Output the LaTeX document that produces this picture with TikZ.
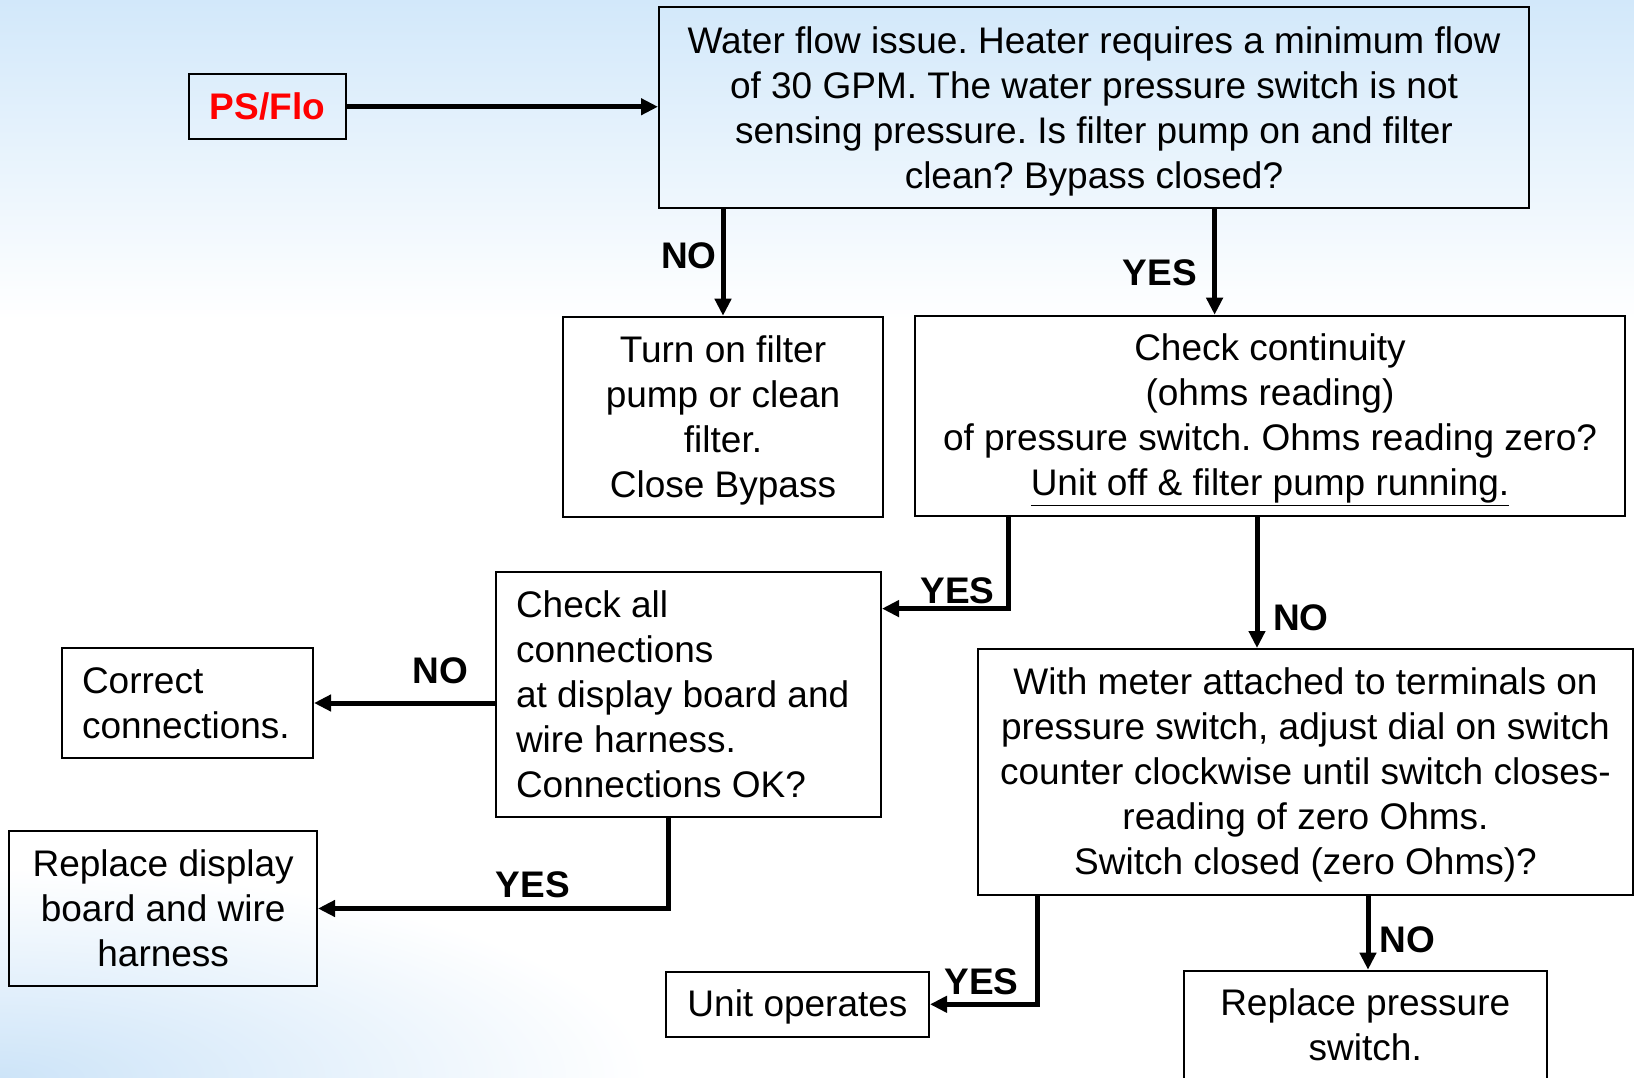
\documentclass[tikz,border=0pt]{standalone}
\usepackage{fontspec}
\setmainfont{Liberation Sans}
\usetikzlibrary{arrows.meta}
\definecolor{bgblue}{RGB}{210,232,250}
\definecolor{bgblue2}{RGB}{205,228,248}
\definecolor{psred}{RGB}{255,0,0}
\frenchspacing
\newcommand\upstrut[1]{\rule{0pt}{#1pt}}
\newcommand\downstrut[1]{\rule[-#1pt]{0pt}{#1pt}}
\begin{document}
\begin{tikzpicture}[x=1pt,y=-1pt,
  box/.style={draw=black, line width=2pt, inner sep=0pt, align=flush center,
    font=\fontsize{37}{45}\selectfont},
  lbox/.style={box, align=flush left, inner xsep=20pt},
  lbl/.style={inner sep=0pt, font=\bfseries\fontsize{37}{45}\selectfont},
  arr/.style={line width=5pt, -{Triangle[length=17pt,width=16pt]}}]
\useasboundingbox (0,0) rectangle (1634,1078);
% background
\fill[white] (0,0) rectangle (1634,1078);
\shade[top color=bgblue, bottom color=white] (0,0) rectangle (1634,320);
\shade[inner color=bgblue2, outer color=white] (0,1078) ellipse (650 and 210);

% nodes
\node[box, minimum width=157pt, minimum height=65.5pt, font=\bfseries\fontsize{37}{45}\selectfont, text=psred]
  (ps) at (267.5,106.75) {PS/Flo};
\node[box, text width=870pt, minimum height=201pt] (top) at (1094,107.5)
  {\upstrut{34.5}Water flow issue. Heater requires a minimum flow\\of 30 GPM. The water pressure switch is not\\sensing pressure. Is filter pump on and filter\\clean? Bypass closed?};
\node[box, text width=320pt, minimum height=200.5pt] (filter) at (723,417)
  {\upstrut{34.3}Turn on filter\\pump or clean\\filter.\\Close Bypass};
\node[box, text width=710pt, minimum height=200.5pt] (cont) at (1270,416)
  {\upstrut{34.6}Check continuity\\(ohms reading)\\of pressure switch. Ohms reading zero?\\\underline{Unit off \& filter pump running.}};
\node[lbox, text width=345pt, minimum height=245.5pt] (checkall) at (688.5,694.3)
  {Check all\\connections\\at display board and\\wire harness.\\Connections OK?};
\node[lbox, text width=211pt, minimum height=110pt] (correct) at (187.5,703)
  {Correct\\connections.};
\node[box, text width=307.6pt, minimum height=155pt] (repdisp) at (163.2,908.5)
  {Replace display\\board and wire\\harness};
\node[box, text width=655pt, minimum height=245.5pt] (meter) at (1305.5,771.75)
  {\upstrut{32.5}With meter attached to terminals on\\pressure switch, adjust dial on switch\\counter clockwise until switch closes-\\reading of zero Ohms.\\Switch closed (zero Ohms)?};
\node[box, text width=263pt, minimum height=64.6pt] (unit) at (797.5,1004.3)
  {\upstrut{32.7}Unit operates};
\node[box, text width=363.5pt, minimum height=112pt] (reppress) at (1365.25,1026.7)
  {Replace pressure\\switch.\downstrut{4}};

% helper coordinates for connector columns/rows
\coordinate (c1) at (1214.6,0);
\coordinate (c2) at (1008,608.6);
\coordinate (c3) at (1257,0);
\coordinate (c4) at (668.4,0);
\coordinate (c5) at (1037,0);
\coordinate (c6) at (1368,0);

% connectors
\draw[arr] (ps.east) -- (ps.east -| top.west);
\draw[arr] (filter.north |- top.south) -- (filter.north);
\draw[arr] (c1 |- top.south) -- (c1 |- cont.north);
\draw[arr] (c2 |- cont.south) -- (c2) -- (c2 -| checkall.east);
\draw[arr] (c3 |- cont.south) -- (c3 |- meter.north);
\draw[arr] (correct.east -| checkall.west) -- (correct.east);
\draw[arr] (c4 |- checkall.south) -- (c4 |- repdisp.east) -- (repdisp.east);
\draw[arr] (c5 |- meter.south) -- (c5 |- unit.east) -- (unit.east);
\draw[arr] (c6 |- meter.south) -- (c6 |- reppress.north);

% labels
\node[lbl] (lno1) at (689,255.5) {NO};
\node[lbl] (lyes1) at (1160,273) {YES};
\node[lbl] (lyes2) at (957.5,591) {YES};
\node[lbl] (lno2) at (1301,617.5) {NO};
\node[lbl] (lno3) at (440.5,670.5) {NO};
\node[lbl] (lyes3) at (533,885) {YES};
\node[lbl] (lyes4) at (981.5,982) {YES};
\node[lbl] (lno4) at (1407.5,940) {NO};
\end{tikzpicture}
\end{document}
